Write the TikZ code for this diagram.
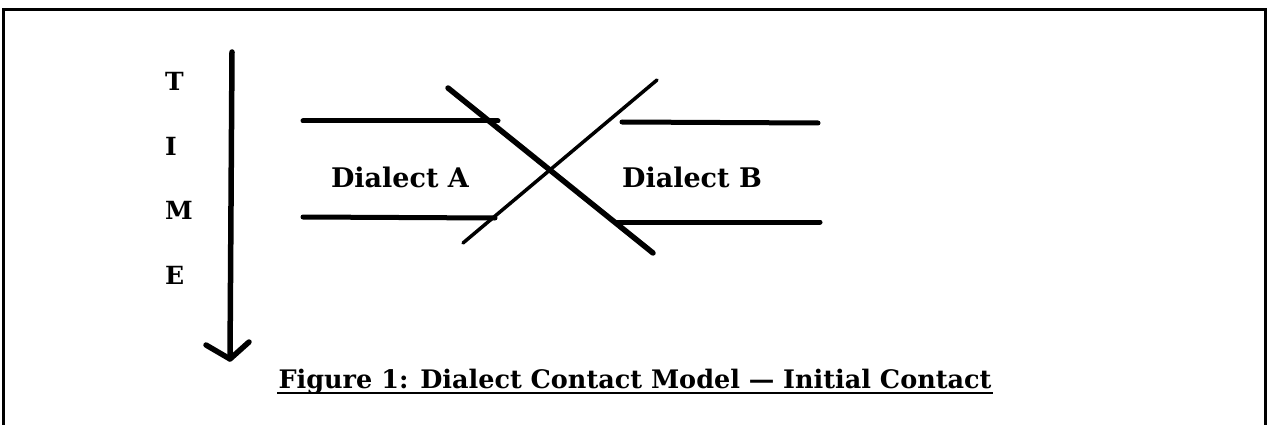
\documentclass[tikz,border=0pt]{standalone}
\usepackage{fontspec}
\setmainfont{DejaVu Serif}
\begin{document}
\begin{tikzpicture}[x=1pt,y=-1pt,
  lbl/.style={font=\fontsize{27}{32}\selectfont\bfseries, inner sep=0pt},
  letter/.style={font=\fontsize{25}{30}\selectfont\bfseries, inner sep=0pt, anchor=west},
  caption/.style={font=\fontsize{25.5}{30}\selectfont\bfseries, inner sep=0pt, anchor=base},
  hline/.style={line width=5pt, line cap=round},
  thickdiag/.style={line width=5.5pt, line cap=round},
  thindiag/.style={line width=3.5pt, line cap=round},
  frame/.style={line width=3pt},
  timeline/.style={line width=5.5pt, line cap=round, line join=round}]
\useasboundingbox (0,0) rectangle (1268,425);
% frame (open at the bottom)
\coordinate (f1) at (3,425);
\coordinate (f2) at (3,10);
\coordinate (f3) at (1265,10);
\coordinate (f4) at (1265,425);
\draw[frame] (f1) -- (f2) -- (f3) -- (f4);
% time axis
\node[letter] (T) at (165,81) {T};
\node[letter] (I) at (165,146) {I};
\node[letter] (M) at (165,210) {M};
\node[letter] (E) at (165,275) {E};
\coordinate (ttop) at (232,52);
\coordinate (ttip) at (230,359);
\coordinate (wl) at (206,345);
\coordinate (wr) at (249,342);
\draw[timeline] (ttop) -- (ttip);
\draw[timeline] (wl) -- (ttip) -- (wr);
% dialect lines
\coordinate (ula) at (303,121); \coordinate (ulb) at (498,121);
\coordinate (lla) at (303,217); \coordinate (llb) at (495,218);
\coordinate (ura) at (622,122); \coordinate (urb) at (818,123);
\coordinate (lra) at (617,222); \coordinate (lrb) at (820,222);
\draw[hline] (ula) -- (ulb);
\draw[hline] (lla) -- (llb);
\draw[hline] (ura) -- (urb);
\draw[hline] (lra) -- (lrb);
% crossing
\coordinate (d1a) at (448,88); \coordinate (d1b) at (653,253);
\coordinate (d2a) at (463,243); \coordinate (d2b) at (657,80);
\draw[thickdiag] (d1a) -- (d1b);
\draw[thindiag] (d2a) -- (d2b);
\node[lbl] (dA) at (400,177) {Dialect A};
\node[lbl] (dB) at (692,177) {Dialect B};
% caption
\node[caption] (cap) at (635,388) {Figure 1: Dialect Contact Model — Initial Contact};
\coordinate (ua) at (277,393); \coordinate (ub) at (993,393);
\draw[line width=2.5pt] (ua) -- (ub);
\end{tikzpicture}
\end{document}
